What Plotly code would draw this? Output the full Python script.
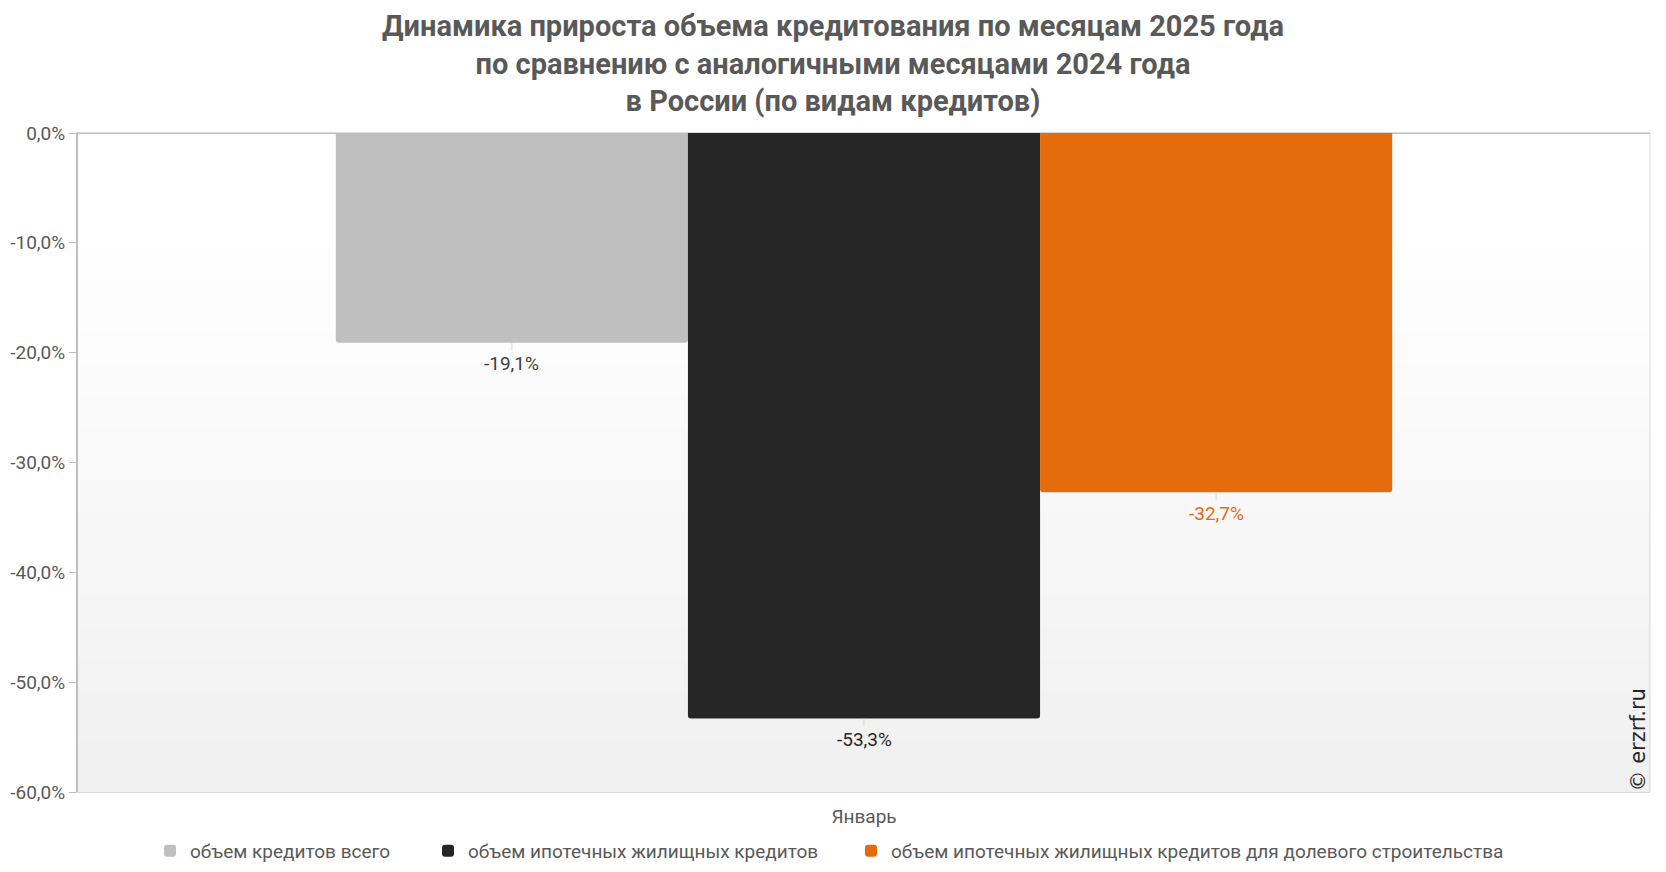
import numpy as np
import plotly.graph_objects as go

# ---- data ----
categories = ["Январь"]
series_names = [
    "объем кредитов всего",
    "объем ипотечных жилищных кредитов",
    "объем ипотечных жилищных кредитов для долевого строительства",
]
series_values = [
    [-19.1],
    [-53.3],
    [-32.7],
]
series_colors = ["#bfbfbf", "#262626", "#e46c0a"]
label_colors = ["#404040", "#262626", "#e46c0a"]
y_tick_vals = [0, -10, -20, -30, -40, -50, -60]
y_tick_text = ["0,0%", "-10,0%", "-20,0%", "-30,0%", "-40,0%", "-50,0%", "-60,0%"]
title_text = ("Динамика прироста объема кредитования по месяцам 2025 года<br>"
              "по сравнению с аналогичными месяцами 2024 года<br>"
              "в России (по видам кредитов)")
watermark = "© erzrf.ru"

def fmt(v):
    return f"{v:.1f}".replace(".", ",") + "%"

BARGAP = 0.328
FONT = "Roboto"
W, H = 1666, 872
legend_ids = ["legend", "legend2", "legend3"]
legend_left_px = [150, 428, 851]

fig = go.Figure()
for name, vals, col, lid in zip(series_names, series_values, series_colors, legend_ids):
    fig.add_trace(go.Bar(
        x=categories, y=vals, name=name, legend=lid,
        marker=dict(color=col, line=dict(width=0), cornerradius=3),
        hoverinfo="skip",
    ))

# data labels with small leader lines
n = len(series_names)
bw = (1 - BARGAP) / n
annotations = []
for i, (vals, lc) in enumerate(zip(series_values, label_colors)):
    for ci, v in enumerate(vals):
        annotations.append(dict(
            x=ci + (i - (n - 1) / 2) * bw, y=v, xref="x", yref="y",
            text=fmt(v), showarrow=True, arrowhead=0, arrowwidth=1,
            arrowcolor="#d9d9d9", ax=0, ay=21, standoff=0,
            font=dict(family=FONT, size=19, color=lc),
        ))

annotations.append(dict(
    text=watermark, xref="x domain", yref="y domain", x=1, y=0,
    xanchor="right", yanchor="bottom", xshift=1, yshift=-2,
    textangle=-90, showarrow=False,
    font=dict(family="DejaVu Sans, Arial", size=21, color="#262626"),
))

# gradient background bands
shapes = []
nb = 40
edges = np.linspace(0, 1, nb + 1)
for k in range(nb):
    mid = (edges[k] + edges[k + 1]) / 2
    t = max(0.0, min(1.0, (0.85 - mid) / 0.85))
    g = int(round(255 - t * (255 - 240)))
    shapes.append(dict(type="rect", xref="x domain", yref="y domain",
                       x0=0, x1=1, y0=edges[k], y1=edges[k + 1] + 0.001,
                       fillcolor=f"rgb({g},{g},{g})", line=dict(width=0),
                       layer="below"))
# right border
shapes.append(dict(type="line", xref="x domain", yref="y domain",
                   x0=1, x1=1, y0=0, y1=1,
                   line=dict(color="#d9d9d9", width=1), layer="above"))

legend_common = dict(orientation="h", xanchor="left", xref="container",
                     y=1 - 832 / H, yanchor="top", yref="container",
                     font=dict(family=FONT, size=19, color="#595959"),
                     itemclick=False, itemdoubleclick=False,
                     bgcolor="rgba(0,0,0,0)")
legends = {}
for lid, lx in zip(legend_ids, legend_left_px):
    legends[lid] = dict(legend_common, x=lx / W)

fig.update_layout(
    width=W, height=H,
    margin=dict(l=78, r=16, t=133, b=80, autoexpand=False),
    paper_bgcolor="white", plot_bgcolor="rgba(0,0,0,0)",
    barmode="group", bargap=BARGAP, bargroupgap=0,
    title=dict(text=title_text, x=0.5, xanchor="center",
               y=1 - 36 / H, yanchor="top", yref="container",
               font=dict(family=FONT, size=29, color="#595959", weight=700)),
    font=dict(family=FONT, size=19, color="#595959"),
    showlegend=True,
    xaxis=dict(showline=True, linecolor="#d9d9d9", linewidth=1, mirror=True,
               showgrid=False, ticks="", ticklabelstandoff=7,
               tickfont=dict(family=FONT, size=19, color="#595959")),
    yaxis=dict(range=[-60, 0], tickvals=y_tick_vals, ticktext=y_tick_text,
               showgrid=False, showline=True, linecolor="#bfbfbf", linewidth=2,
               zeroline=True, zerolinecolor="#bfbfbf", zerolinewidth=2,
               ticks="outside", ticklen=7, tickcolor="#bfbfbf", tickwidth=1,
               tickfont=dict(family=FONT, size=19, color="#595959")),
    annotations=annotations,
    shapes=shapes,
    **legends,
)

fig.write_html("out.html")
